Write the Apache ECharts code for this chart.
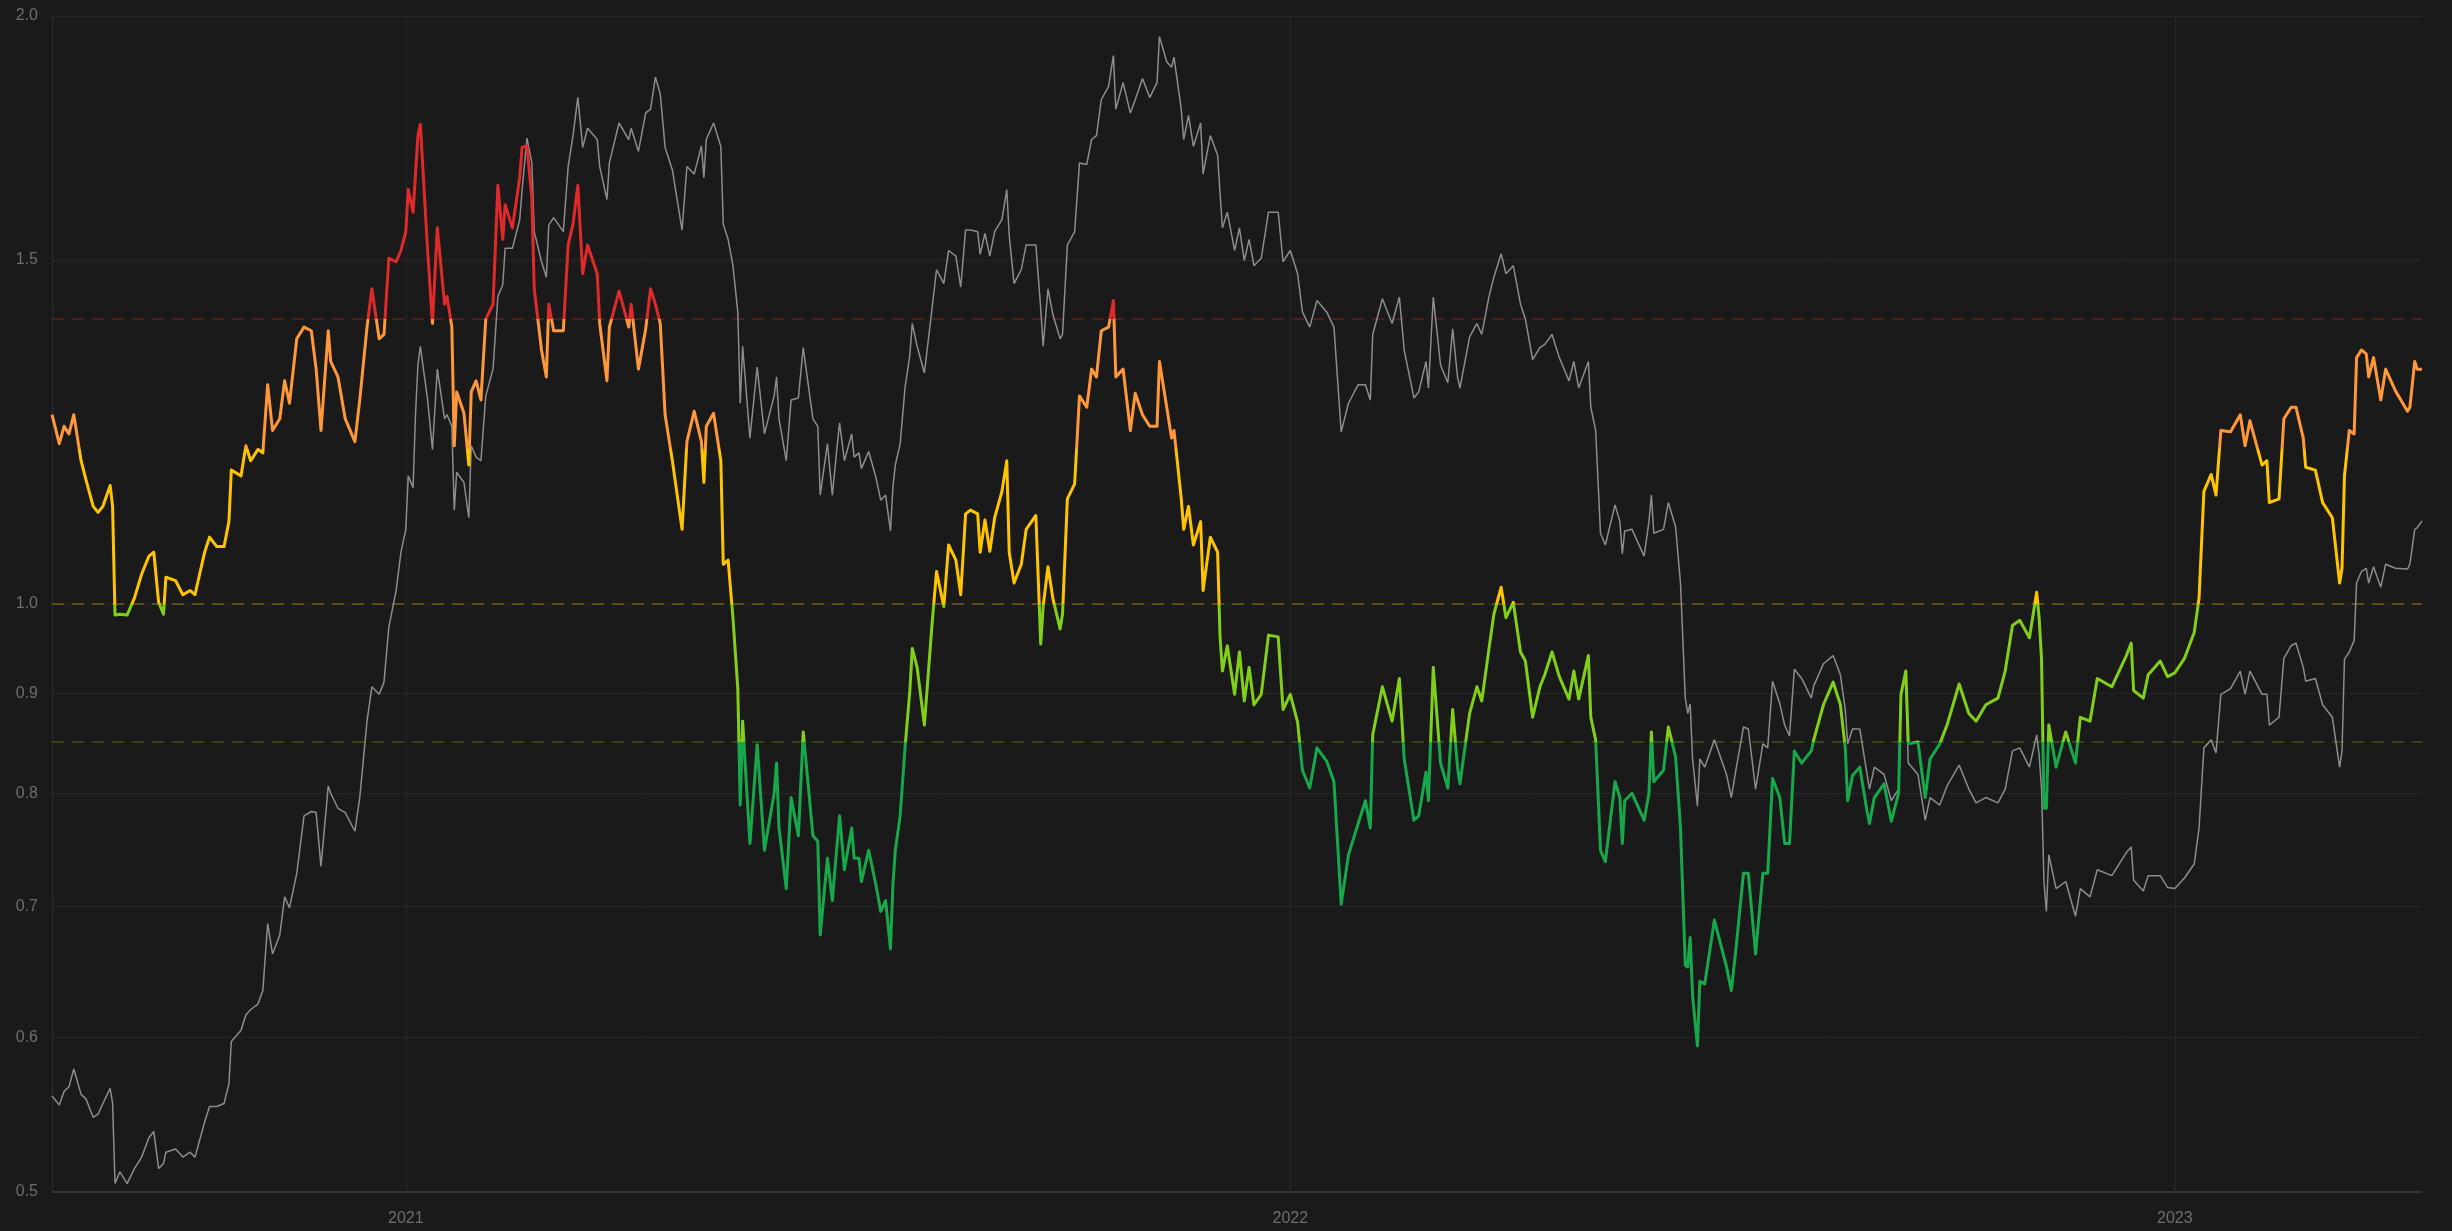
<!DOCTYPE html>
<html>
<head>
<meta charset="utf-8">
<script src="https://cdn.jsdelivr.net/npm/echarts@6/dist/echarts.min.js"></script>
<style>
  html, body { margin: 0; padding: 0; background: #1a1a1a; }
  #chart { width: 2452px; height: 1231px; }
</style>
</head>
<body>
<div id="chart"></div>
<script>
// ---- data ----
const startDate = '2020-08-08';
// days after startDate
const dayOffsets = [
  0,3,5,7,9,12,14,17,19,21,24,25,26,28,31,34,37,40,42,44,46,47,51,54,57,59,63,65,68,71,73,74,78,80,82,85,87,89,91,94,96,98,101,104,107,109,111,114,115,118,121,125,127,130,132,135,137,139,142,144,146,147,149,150,151,152,155,157,159,162,
  163,165,166,167,170,172,173,175,177,179,182,184,186,187,190,193,194,196,198,199,202,204,205,207,211,213,215,217,219,221,225,226,229,230,234,238,239,242,245,247,249,251,253,256,260,262,265,268,269,270,273,276,277,279,281,283,284,285,288,291,294,298,299,300,303,305,308,310,314,316,317,320,322,
  324,325,327,330,331,333,334,337,340,342,344,346,347,348,350,352,354,355,357,360,363,365,368,370,373,375,377,379,382,383,385,387,389,392,394,395,397,400,402,406,408,409,411,413,416,417,419,422,424,427,429,431,433,436,438,439,442,445,447,450,453,456,457,460,462,463,466,467,469,471,474,475,478,481,482,483,
  485,488,490,492,494,496,499,502,506,508,511,514,516,519,522,526,529,532,535,539,542,544,545,549,553,556,558,562,564,567,568,570,573,576,578,580,581,585,588,590,593,595,598,600,603,606,608,611,614,616,619,622,626,628,630,634,635,637,639,641,645,
  647,648,649,652,657,659,660,661,665,667,670,672,674,675,676,677,679,680,682,686,691,693,695,698,700,703,706,708,710,713,715,717,719,722,726,727,731,735,738,740,741,743,746,749,750,752,756,759,762,763,765,766,770,773,775,779,782,787,791,794,798,803,806,
  809,812,816,819,820,821,822,823,824,827,831,835,837,841,844,850,856,858,859,863,865,870,873,876,880,884,886,888,891,893,895,899,903,905,907,912,914,915,919,921,924,926,929,930,934,937,941,944,945,946,948,950,951,953,955,956,958,961,963,967,972,973,975,976,978
];
// coloured ratio line
const ratioValues = [
  1.250,1.208,1.233,1.222,1.250,1.184,1.158,1.122,1.114,1.122,1.150,1.122,0.987,0.988,0.987,1.007,1.036,1.058,1.063,1.002,0.988,1.032,1.028,1.011,1.016,1.011,1.063,1.082,1.070,1.070,1.102,1.171,1.163,1.205,1.184,1.200,1.195,1.295,1.227,1.244,1.301,1.267,1.367,1.386,1.380,1.319,1.227,1.380,1.331,1.307,1.244,1.211,1.272,1.386,1.450,1.367,1.374,1.503,1.497,1.517,1.551,1.630,1.587,1.660,1.737,1.760,1.517,1.392,1.558,1.424,
  1.437,1.386,1.205,1.284,1.252,1.178,1.284,1.301,1.272,1.399,1.424,1.638,1.537,1.601,1.558,1.653,1.713,1.716,1.615,1.450,1.349,1.307,1.424,1.380,1.380,1.527,1.565,1.638,1.476,1.527,1.476,1.392,1.301,1.386,1.446,1.386,1.424,1.319,1.383,1.450,1.424,1.392,1.250,1.184,1.092,1.211,1.255,1.211,1.154,1.233,1.252,1.184,1.048,1.053,0.984,0.905,0.789,0.871,0.754,0.847,0.748,0.800,0.829,0.768,0.715,0.796,0.761,0.860,0.761,0.756,0.677,0.741,0.705,
  0.754,0.779,0.731,0.768,0.741,0.741,0.721,0.748,0.718,0.696,0.705,0.666,0.718,0.748,0.779,0.844,0.903,0.949,0.928,0.867,0.971,1.039,0.997,1.072,1.053,1.011,1.112,1.117,1.112,1.063,1.104,1.064,1.107,1.142,1.184,1.063,1.025,1.048,1.092,1.110,0.954,0.997,1.045,1.007,0.971,0.988,1.132,1.152,1.278,1.261,1.319,1.307,1.380,1.386,1.430,1.307,1.319,1.227,1.282,1.250,1.233,1.233,1.331,1.261,1.216,1.227,1.132,1.092,1.122,1.072,1.102,1.016,1.082,1.063,0.962,0.924,
  0.952,0.899,0.945,0.892,0.928,0.888,0.899,0.964,0.962,0.883,0.899,0.870,0.822,0.805,0.844,0.831,0.811,0.702,0.744,0.772,0.793,0.768,0.857,0.907,0.871,0.916,0.833,0.775,0.779,0.820,0.793,0.928,0.829,0.805,0.883,0.825,0.809,0.879,0.907,0.892,0.949,0.988,1.020,0.984,1.002,0.945,0.935,0.875,0.907,0.920,0.945,0.918,0.894,0.924,0.894,0.941,0.875,0.852,0.748,0.738,0.811,
  0.796,0.754,0.793,0.800,0.775,0.800,0.860,0.811,0.822,0.865,0.835,0.768,0.653,0.652,0.675,0.630,0.594,0.641,0.639,0.689,0.652,0.634,0.668,0.728,0.728,0.662,0.728,0.728,0.814,0.796,0.754,0.754,0.841,0.829,0.841,0.852,0.888,0.912,0.888,0.844,0.793,0.817,0.825,0.783,0.772,0.796,0.809,0.774,0.800,0.899,0.924,0.848,0.850,0.796,0.833,0.848,0.867,0.910,0.879,0.871,0.888,0.895,0.924,
  0.975,0.981,0.961,1.014,0.984,0.937,0.786,0.786,0.867,0.825,0.860,0.829,0.875,0.871,0.916,0.907,0.941,0.955,0.903,0.895,0.920,0.935,0.918,0.922,0.938,0.967,1.007,1.142,1.165,1.137,1.227,1.225,1.250,1.205,1.241,1.178,1.184,1.127,1.132,1.244,1.261,1.261,1.216,1.175,1.171,1.127,1.107,1.025,1.043,1.163,1.227,1.222,1.337,1.349,1.343,1.307,1.337,1.272,1.319,1.286,1.255,1.261,1.331,1.319,1.319
];
// grey line
const priceValues = [
  0.560,0.554,0.563,0.566,0.578,0.561,0.558,0.546,0.548,0.555,0.565,0.555,0.505,0.512,0.505,0.514,0.521,0.533,0.537,0.514,0.517,0.524,0.526,0.521,0.524,0.521,0.543,0.553,0.553,0.555,0.568,0.597,0.605,0.616,0.620,0.624,0.634,0.686,0.662,0.677,0.708,0.699,0.728,0.779,0.783,0.782,0.734,0.807,0.800,0.786,0.782,0.765,0.796,0.871,0.907,0.899,0.912,0.973,1.016,1.063,1.092,1.163,1.147,1.250,1.325,1.355,1.272,1.200,1.319,1.244,
  1.250,1.233,1.117,1.168,1.154,1.107,1.205,1.189,1.184,1.278,1.319,1.437,1.457,1.521,1.521,1.573,1.630,1.732,1.682,1.551,1.497,1.470,1.563,1.577,1.551,1.675,1.737,1.817,1.713,1.752,1.729,1.675,1.611,1.682,1.763,1.729,1.752,1.705,1.784,1.792,1.861,1.825,1.713,1.668,1.554,1.675,1.660,1.716,1.653,1.729,1.763,1.715,1.565,1.537,1.490,1.411,1.267,1.355,1.216,1.322,1.222,1.278,1.307,1.244,1.184,1.272,1.275,1.353,1.244,1.233,1.137,1.208,1.137,
  1.205,1.238,1.184,1.222,1.189,1.195,1.173,1.197,1.161,1.130,1.137,1.090,1.147,1.178,1.208,1.290,1.341,1.392,1.355,1.313,1.411,1.483,1.459,1.517,1.507,1.453,1.554,1.554,1.551,1.510,1.548,1.507,1.551,1.573,1.630,1.544,1.459,1.483,1.527,1.527,1.417,1.355,1.450,1.407,1.367,1.374,1.527,1.551,1.682,1.679,1.729,1.737,1.812,1.841,1.909,1.792,1.849,1.784,1.812,1.858,1.817,1.849,1.952,1.895,1.883,1.905,1.792,1.729,1.779,1.715,1.763,1.660,1.737,1.697,1.623,1.558,
  1.587,1.517,1.558,1.499,1.537,1.490,1.503,1.587,1.587,1.497,1.517,1.476,1.411,1.386,1.430,1.411,1.386,1.225,1.267,1.295,1.295,1.272,1.374,1.433,1.392,1.436,1.349,1.275,1.284,1.331,1.290,1.436,1.325,1.298,1.383,1.307,1.290,1.370,1.392,1.374,1.437,1.470,1.511,1.476,1.490,1.424,1.399,1.334,1.353,1.358,1.374,1.337,1.301,1.331,1.290,1.331,1.261,1.227,1.087,1.072,1.124,
  1.102,1.061,1.090,1.092,1.058,1.102,1.137,1.087,1.092,1.127,1.095,1.025,0.895,0.879,0.889,0.833,0.788,0.833,0.825,0.852,0.818,0.796,0.824,0.865,0.863,0.804,0.848,0.844,0.913,0.889,0.867,0.856,0.926,0.916,0.895,0.908,0.932,0.941,0.920,0.883,0.848,0.863,0.863,0.818,0.804,0.825,0.818,0.793,0.804,0.902,0.920,0.829,0.818,0.775,0.796,0.789,0.807,0.827,0.804,0.791,0.796,0.791,0.804,
  0.841,0.844,0.825,0.857,0.837,0.804,0.721,0.696,0.744,0.715,0.721,0.692,0.715,0.708,0.731,0.726,0.746,0.751,0.722,0.713,0.726,0.726,0.716,0.715,0.724,0.736,0.768,0.844,0.852,0.839,0.899,0.905,0.924,0.899,0.924,0.899,0.899,0.867,0.875,0.938,0.952,0.955,0.928,0.913,0.916,0.888,0.875,0.825,0.841,0.937,0.945,0.958,1.025,1.039,1.043,1.025,1.045,1.020,1.048,1.043,1.042,1.048,1.092,1.094,1.103
];
const yTickValues = [0.5, 0.6, 0.7, 0.8, 0.9, 1.0, 1.5, 2.0];
const xTickDates = ['2021-01-01', '2022-01-01', '2023-01-01'];
const colourBreaks = [0.85, 1.0, 1.2, 1.4];
const bandColours = ['#17a84b', '#82cf19', '#ffc400', '#ff973b', '#e02a2a'];
const dashedLevels = [0.85, 1.0, 1.4];
const dashedColours = ['rgba(130,207,25,0.33)', 'rgba(255,196,0,0.36)', 'rgba(224,42,42,0.36)'];

// ---- build ----
const DAY = 86400000;
const t0 = new Date(startDate + 'T00:00:00').getTime();
const times = dayOffsets.map(d => t0 + d * DAY);
const ratioData = times.map((t, i) => [t, ratioValues[i]]);
const priceData = times.map((t, i) => [t, priceValues[i]]);
const xTicks = xTickDates.map(s => new Date(s + 'T00:00:00').getTime());

const FONT = 'Liberation Sans, Arial, sans-serif';
const gridColour = '#272727';
const labelColour = '#6e6e6e';

const yGridLines = yTickValues.map(v => ({
  yAxis: v,
  lineStyle: { color: v === 0.5 ? '#353535' : gridColour, type: 'solid', width: v === 0.5 ? 2 : 1 },
  label: { show: true, position: 'start', formatter: v.toFixed(1), color: labelColour, fontSize: 16, fontFamily: FONT, distance: 14 }
}));
const xGridLines = xTicks.map(t => ({
  xAxis: t,
  lineStyle: { color: gridColour, type: 'solid', width: 1 },
  label: { show: true, position: 'start', formatter: String(new Date(t).getFullYear()), color: labelColour, fontSize: 16, fontFamily: FONT, distance: 19 }
}));
const dashLines = dashedLevels.map((v, i) => ({
  yAxis: v,
  lineStyle: { color: dashedColours[i], type: [12, 8], width: 1.5 },
  label: { show: false }
}));

const pieces = [];
for (let i = 0; i < bandColours.length; i++) {
  const p = { color: bandColours[i] };
  if (i > 0) p.gte = colourBreaks[i - 1];
  if (i < colourBreaks.length) p.lt = colourBreaks[i];
  pieces.push(p);
}

const chart = echarts.init(document.getElementById('chart'), null, { renderer: 'canvas' });
chart.setOption({
  backgroundColor: '#1a1a1a',
  animation: false,
  textStyle: { fontFamily: FONT },
  grid: { left: 52, right: 30, top: 16, bottom: 39, containLabel: false },
  xAxis: {
    type: 'time',
    min: times[0],
    max: times[times.length - 1],
    axisLine: { show: false },
    axisTick: { show: false },
    axisLabel: { show: false },
    splitLine: { show: false }
  },
  yAxis: {
    type: 'log',
    logBase: 10,
    min: 0.5,
    max: 2.0,
    axisLine: { show: true, lineStyle: { color: '#2c2c2c' } },
    axisTick: { show: false },
    axisLabel: { show: false },
    splitLine: { show: false }
  },
  visualMap: {
    type: 'piecewise',
    show: false,
    seriesIndex: 1,
    dimension: 1,
    pieces: pieces
  },
  series: [
    {
      type: 'line',
      name: 'grey',
      data: priceData,
      showSymbol: false,
      symbol: 'none',
      z: 3,
      lineStyle: { color: '#8d8d8d', width: 1.5 },
      markLine: {
        silent: true,
        symbol: ['none', 'none'],
        animation: false,
        z: 1,
        data: yGridLines.concat(xGridLines).concat(dashLines)
      }
    },
    {
      type: 'line',
      name: 'ratio',
      data: ratioData,
      showSymbol: false,
      symbol: 'none',
      z: 4,
      lineStyle: { width: 3, join: 'round' }
    }
  ]
});
</script>
</body>
</html>
